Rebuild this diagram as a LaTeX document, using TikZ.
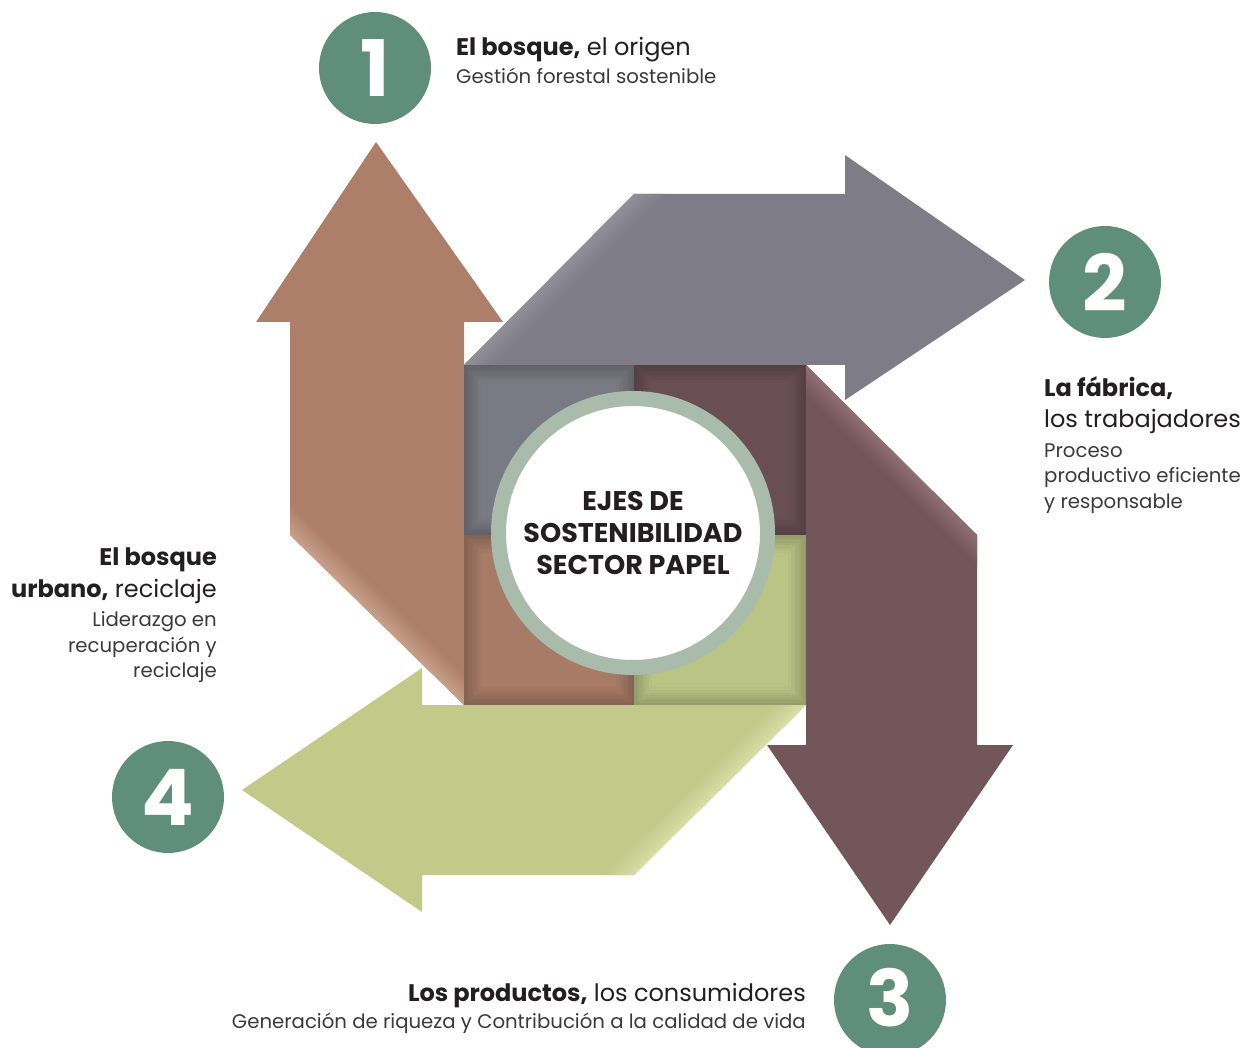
\documentclass[tikz,border=0pt]{standalone}
\usepackage{fontspec}
\setmainfont{Poppins}
\usetikzlibrary{positioning}

\definecolor{numgreen}{HTML}{5F8F7C}
\definecolor{arrgray}{HTML}{7E7D87}
\definecolor{arrmaroon}{HTML}{72565A}
\definecolor{arrbrown}{HTML}{AD7F69}
\definecolor{arrgreen}{HTML}{C1CA89}
\definecolor{lightgray}{HTML}{908F98}
\definecolor{lightmaroon}{HTML}{8F6E72}
\definecolor{lightbrown}{HTML}{C79F88}
\definecolor{lightgreen}{HTML}{D6DDA6}
\definecolor{qgray}{HTML}{7A7A84}
\definecolor{qmaroon}{HTML}{694F53}
\definecolor{qbrown}{HTML}{A77B66}
\definecolor{qgreen}{HTML}{BAC485}
\definecolor{ringgreen}{HTML}{A9BBAA}
\definecolor{darktxt}{HTML}{231F20}
\definecolor{softtxt}{HTML}{3A3A3C}

\tikzset{
  numtext/.style={inner sep=0pt, text=white, font=\fontsize{78}{78}\selectfont\bfseries},
  headline/.style={text=darktxt, inner sep=0pt, font=\fontsize{24}{24}\selectfont},
  subline/.style={text=softtxt, inner sep=0pt, font=\fontsize{19.7}{19.7}\selectfont},
}

\begin{document}
\begin{tikzpicture}[x=1pt,y=-1pt]
\useasboundingbox (0,0) rectangle (1253,1048);

% arrows
\fill[arrbrown] (464,705)--(290,535)--(290,322)--(256,322)--(376,142)--(503,322)--(464,322)--cycle;
\fill[arrgray] (464,365)--(634,194)--(845,194)--(845,155)--(1025,280)--(845,400)--(845,365)--cycle;
\fill[arrmaroon] (806,365)--(977,535)--(977,745)--(1013,745)--(890,925)--(767,745)--(806,745)--cycle;
\fill[arrgreen] (806,705)--(634,875)--(422,875)--(422,912)--(242,790)--(422,668)--(422,705)--cycle;

% light bands along the folds
\foreach \i [evaluate=\i as \mix using int(100-10*\i)] in {0,...,9} {
  \fill[lightgray!\mix!arrgray] (464+3*\i,365)--(634+3*\i,194)--(637.5+3*\i,194)--(467.5+3*\i,365)--cycle;
  \fill[lightbrown!\mix!arrbrown] (290,535-3*\i)--(464,705-3*\i)--(464,701.5-3*\i)--(290,531.5-3*\i)--cycle;
  \fill[lightmaroon!\mix!arrmaroon] (806,365+3*\i)--(977,535+3*\i)--(977,538.5+3*\i)--(806,368.5+3*\i)--cycle;
  \fill[lightgreen!\mix!arrgreen] (806-3*\i,705)--(634-3*\i,875)--(630.5-3*\i,875)--(802.5-3*\i,705)--cycle;
}

% centre square, with a soft inner shadow
\foreach \xa/\ya/\xb/\yb/\col in {464/365/634/535/qgray, 634/365/806/535/qmaroon,
    464/535/634/705/qbrown, 634/535/806/705/qgreen} {
  \fill[\col] (\xa,\ya) rectangle (\xb,\yb);
  \foreach \i [evaluate=\i as \mix using int(80+3*\i)] in {0,...,6}
    \draw[\col!\mix!black, line width=2.6] (\xa+1.3+2.5*\i,\ya+1.3+2.5*\i) rectangle (\xb-1.3-2.5*\i,\yb-1.3-2.5*\i);
}

\node[circle, draw=ringgreen, line width=15pt, fill=white, minimum size=269pt,
  text=darktxt, align=center, font=\fontsize{27}{32}\selectfont\bfseries] (hub) at (633,533)
  {EJES DE\\SOSTENIBILIDAD\\SECTOR PAPEL};

% numbers
\fill[numgreen] (375,68) circle (56);
\fill[numgreen] (1105,282) circle (56);
\fill[numgreen] (890,1000) circle (56);
\fill[numgreen] (168,797) circle (56);
\node[numtext] (n1) at (375,68) {1};
\node[numtext] (n2) at (1105,282) {2};
\node[numtext] (n3) at (890,998) {3};
\node[numtext] (n4) at (168,797) {4};

% labels
\node[headline, anchor=base west] (t1a) at (456,56) {\textbf{El bosque,} el origen};
\node[subline, anchor=base west] (t1b) at (456,84) {Gestión forestal sostenible};

\node[headline, anchor=base west] (t2a) at (1044,397) {\textbf{La fábrica,}};
\node[headline, anchor=base west] (t2b) at (1044,428) {los trabajadores};
\node[subline, anchor=base west] (t2c) at (1044,457) {Proceso};
\node[subline, anchor=base west] (t2d) at (1044,482) {productivo eficiente};
\node[subline, anchor=base west] (t2e) at (1044,508) {y responsable};

\node[headline, anchor=base east] (t3a) at (806,1001) {\textbf{Los productos,} los consumidores};
\node[subline, anchor=base east] (t3b) at (806,1028) {Generación de riqueza y Contribución a la calidad de vida};

\node[headline, anchor=base east] (t4a) at (217,565) {\textbf{El bosque}};
\node[headline, anchor=base east] (t4b) at (217,597) {\textbf{urbano,} reciclaje};
\node[subline, anchor=base east] (t4c) at (217,626) {Liderazgo en};
\node[subline, anchor=base east] (t4d) at (217,652) {recuperación y};
\node[subline, anchor=base east] (t4e) at (217,677) {reciclaje};
\end{tikzpicture}
\end{document}
